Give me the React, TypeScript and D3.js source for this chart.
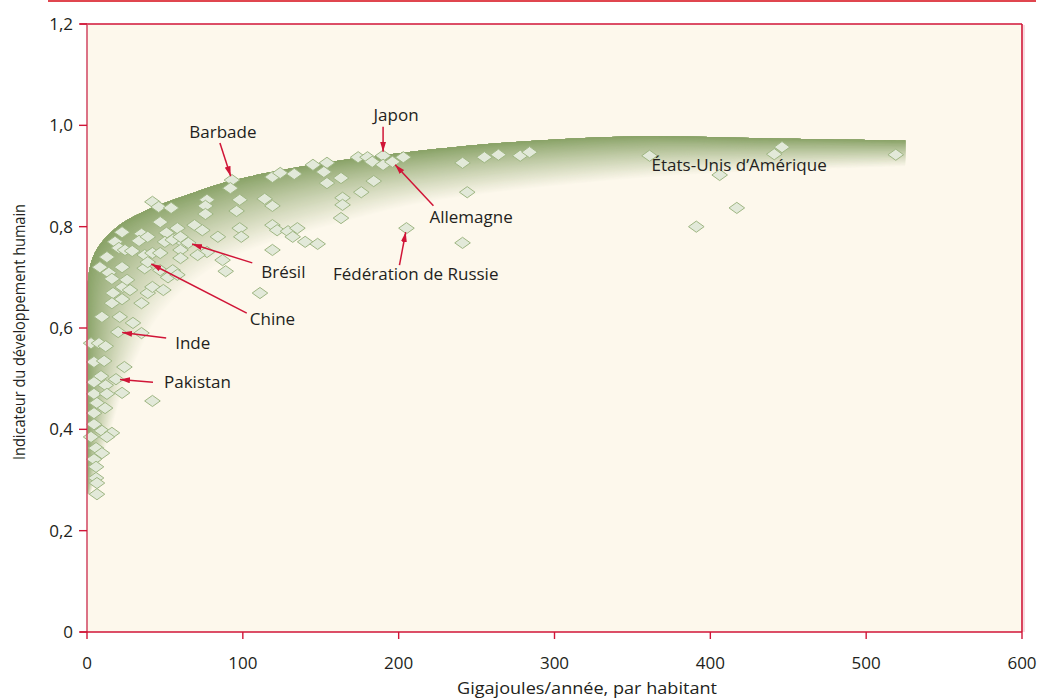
import React from 'react';
import * as d3 from 'd3';

// Energy use per inhabitant (GJ/year) and human development index, one entry per country
const energyGJ = [
  519, 361, 446, 441, 406, 417, 391, 174, 180, 183, 190, 190, 196, 203, 241, 255, 264, 278, 284, 184,
  176, 244, 205, 241, 93, 92, 77, 76, 76, 98, 96, 114, 119, 119, 124, 133, 145, 154, 152, 154,
  163, 164, 164, 163, 42, 46, 54, 47, 58, 52, 69, 74, 62, 84, 98, 99, 119, 122, 129, 135,
  132, 140, 148, 119, 111, 87, 89, 77, 71, 22.5, 18, 20.5, 24.4, 29, 35, 33.4, 39, 37, 42, 47,
  51, 50, 55, 60, 65, 60, 60, 47, 37, 39, 8.3, 12.8, 14, 16, 22.5, 16.7, 23, 16, 22.5, 27.6,
  35, 39, 42, 49, 52, 55, 9.6, 21, 29.5, 20, 35, 2.6, 7.7, 12, 4.5, 11, 24, 9, 18.6, 4.5,
  12, 4.5, 12.8, 22.5, 42, 6.4, 4.5, 11.6, 4.5, 9.6, 16, 12.8, 2.6, 5.8, 9.6, 4.5, 5.8, 5.8, 6.4, 6.4,
  25.7, 58,
];
const hdi = [
  0.942, 0.94, 0.957, 0.943, 0.902, 0.837, 0.8, 0.937, 0.937, 0.928, 0.94, 0.922, 0.928, 0.937, 0.926, 0.937, 0.942, 0.94, 0.947, 0.89,
  0.868, 0.868, 0.797, 0.768, 0.892, 0.876, 0.853, 0.841, 0.825, 0.853, 0.831, 0.855, 0.841, 0.898, 0.906, 0.904, 0.922, 0.926, 0.908, 0.886,
  0.896, 0.857, 0.843, 0.817, 0.849, 0.839, 0.837, 0.809, 0.797, 0.784, 0.803, 0.793, 0.768, 0.78, 0.797, 0.78, 0.803, 0.793, 0.791, 0.797,
  0.78, 0.77, 0.766, 0.754, 0.669, 0.734, 0.712, 0.75, 0.744, 0.789, 0.77, 0.758, 0.754, 0.752, 0.786, 0.772, 0.78, 0.744, 0.748, 0.748,
  0.788, 0.77, 0.774, 0.78, 0.768, 0.754, 0.738, 0.714, 0.718, 0.73, 0.72, 0.74, 0.709, 0.697, 0.72, 0.669, 0.681, 0.649, 0.657, 0.675,
  0.649, 0.669, 0.681, 0.675, 0.7, 0.714, 0.622, 0.622, 0.61, 0.592, 0.59, 0.57, 0.57, 0.564, 0.533, 0.535, 0.523, 0.505, 0.499, 0.493,
  0.487, 0.47, 0.47, 0.472, 0.456, 0.452, 0.432, 0.442, 0.41, 0.397, 0.393, 0.385, 0.385, 0.363, 0.353, 0.341, 0.326, 0.304, 0.294, 0.272,
  0.695, 0.705,
];

// Named countries: index into the arrays above
const calloutNames = ['Barbade', 'Japon', 'Allemagne', 'Fédération de Russie', 'Brésil', 'Chine', 'Inde', 'Pakistan', 'États-Unis d’Amérique'];
const calloutIndex = [24, 10, 12, 22, 84, 89, 109, 118, 1];

// Trend band: outer (sharp) edge and inner (faded) edge, in data units
const bandOuterX = [0, 0, 0, 0, 0.4, 2, 5, 11, 22, 40, 62, 92, 150, 200, 270, 350, 440, 525];
const bandOuterY = [0.275, 0.4, 0.52, 0.6, 0.685, 0.722, 0.748, 0.775, 0.806, 0.835, 0.86, 0.89, 0.925, 0.945, 0.966, 0.978, 0.974, 0.97];
const bandInnerX = [2, 14, 24, 34, 44, 55, 65, 77, 92, 112, 132, 162, 207, 252, 310, 380, 450, 525];
const bandInnerY = [0.27, 0.38, 0.48, 0.55, 0.61, 0.65, 0.68, 0.708, 0.735, 0.76, 0.78, 0.805, 0.84, 0.862, 0.882, 0.9, 0.91, 0.918];

const xTicks = [0, 100, 200, 300, 400, 500, 600];
const yTicks = [0, 0.2, 0.4, 0.6, 0.8, 1.0, 1.2];

// Label placement relative to the marked point (pixels)
const calloutLayout = [
  { lx: -9, ly: -42, anchor: 'middle', tx: -12, ty: -37, arrow: true },
  { lx: 13, ly: -35, anchor: 'middle', tx: 0, ty: -29, arrow: true },
  { lx: 37, ly: 61, anchor: 'start', tx: 41, ty: 44, arrow: true },
  { lx: 92, ly: 52, anchor: 'end', tx: -7, ty: 37, arrow: true },
  { lx: 73, ly: 35, anchor: 'start', tx: 64, ty: 20, arrow: true },
  { lx: 102, ly: 63, anchor: 'start', tx: 99, ty: 51, arrow: true },
  { lx: 57, ly: 17, anchor: 'start', tx: 48, ty: 6, arrow: true },
  { lx: 48, ly: 9, anchor: 'start', tx: 37, ty: 3, arrow: true },
  { lx: 2, ly: 15, anchor: 'start', tx: 0, ty: 0, arrow: false },
];

const W = 1038;
const H = 699;
const FONT = '"Open Sans", "Noto Sans", sans-serif';
const RED = '#d01537';
const GREEN = '#87a165';
const CREAM = '#fdf8ec';
const INK = '#231f20';

const fmt = (v: number) => (v === 0 ? '0' : d3.format('.1f')(v).replace('.', ','));

export default function App() {
  const x = d3.scaleLinear().domain([0, 600]).range([87, 1022]);
  const y = d3.scaleLinear().domain([0, 1.2]).range([632, 24]);

  const line = d3.line<[number, number]>().curve(d3.curveCatmullRom.alpha(0.5));
  const outerPx: [number, number][] = bandOuterX.map((v, i) => [x(v), y(bandOuterY[i])]);
  const innerPx: [number, number][] = bandInnerX.map((v, i) => [x(v), y(bandInnerY[i])]);
  const curveAt = (t: number): [number, number][] =>
    outerPx.map((p, i) => [p[0] + (innerPx[i][0] - p[0]) * t, p[1] + (innerPx[i][1] - p[1]) * t]);
  const outerPath = line(outerPx) as string;

  // Stacked regions from the sharp edge inwards, each a little paler
  const N = 60;
  const bandLayers: { d: string; fill: string }[] = [];
  const shade = d3.interpolateRgb(GREEN, CREAM);
  for (let k = N; k >= 1; k--) {
    const t = k / N;
    const back = (line(curveAt(t).slice().reverse()) as string).replace(/^M/, 'L');
    bandLayers.push({ d: outerPath + back + 'Z', fill: shade(Math.pow(t, 0.9)) });
  }

  const dw = 7.8;
  const dh = 5.6;
  const diamond = `M0,${-dh}L${dw},0L0,${dh}L${-dw},0Z`;

  return (
    <svg width={W} height={H} style={{ position: 'absolute', left: 0, top: 0, display: 'block' }} fontFamily={FONT}>
      <defs>
        <clipPath id="plot-clip">
          <rect x={87} y={24} width={1022 - 87} height={632 - 24} />
        </clipPath>
        <marker id="arrowhead" viewBox="0 0 10 6" refX={10} refY={3} markerWidth={10} markerHeight={6}
          markerUnits="userSpaceOnUse" orient="auto">
          <path d="M0,0L10,3L0,6Z" fill={RED} />
        </marker>
      </defs>
      <rect x={0} y={0} width={W} height={H} fill="#ffffff" />
      <line x1={48} x2={1036} y1={1} y2={1} stroke="#e0464f" strokeWidth={2} />

      <rect x={87} y={24} width={1022 - 87} height={632 - 24} fill={CREAM} />

      <g clipPath="url(#plot-clip)">
        {bandLayers.map((l, i) => (
          <path key={i} d={l.d} fill={l.fill} />
        ))}
      </g>

      <g>
        {energyGJ.map((e, i) => (
          <path key={i} d={diamond} transform={`translate(${x(e)},${y(hdi[i])})`}
            fill="#e2e9d9" stroke="#9fb683" strokeWidth={1} />
        ))}
      </g>

      {/* frame and axes */}
      <line x1={80} x2={1022} y1={24} y2={24} stroke={RED} strokeWidth={1.6} />
      <line x1={1022} x2={1022} y1={24} y2={632} stroke={RED} strokeWidth={1.6} />
      <line x1={1024} x2={1024} y1={25} y2={632} stroke="#f2b8c0" strokeWidth={1} />
      <line x1={87} x2={87} y1={24} y2={632} stroke="#d4506a" strokeWidth={1.6} />
      <line x1={80} x2={1022} y1={632} y2={632} stroke={RED} strokeWidth={1.6} />

      {yTicks.map((t) => (
        <g key={t}>
          <line x1={79} x2={87} y1={y(t)} y2={y(t)} stroke={RED} strokeWidth={1.4} />
          <text x={73} y={y(t)} dy="0.36em" textAnchor="end" fontSize={17} fill={INK}>{fmt(t)}</text>
        </g>
      ))}
      {xTicks.map((t) => (
        <g key={t}>
          <line x1={x(t)} x2={x(t)} y1={632} y2={639} stroke={RED} strokeWidth={1.4} />
          <text x={x(t)} y={669} textAnchor="middle" fontSize={17} fill={INK}>{t}</text>
        </g>
      ))}

      <text x={587} y={694} textAnchor="middle" fontSize={17} fill={INK}
        textLength={260} lengthAdjust="spacingAndGlyphs">Gigajoules/année, par habitant</text>
      <text transform={`translate(25,${332}) rotate(-90)`} textAnchor="middle" fontSize={16} fill={INK}
        textLength={256} lengthAdjust="spacingAndGlyphs">
        Indicateur du développement humain
      </text>

      {calloutNames.map((name, i) => {
        const idx = calloutIndex[i];
        const px = x(energyGJ[idx]);
        const py = y(hdi[idx]);
        const L = calloutLayout[i];
        const len = Math.hypot(L.tx, L.ty) || 1;
        const gap = 4;
        return (
          <g key={name}>
            {L.arrow && (
              <line x1={px + L.tx} y1={py + L.ty} x2={px + (L.tx / len) * gap} y2={py + (L.ty / len) * gap}
                stroke={RED} strokeWidth={1.5} markerEnd="url(#arrowhead)" />
            )}
            <text x={px + L.lx} y={py + L.ly} textAnchor={L.anchor as any} fontSize={17} fill={INK}>{name}</text>
          </g>
        );
      })}
    </svg>
  );
}
